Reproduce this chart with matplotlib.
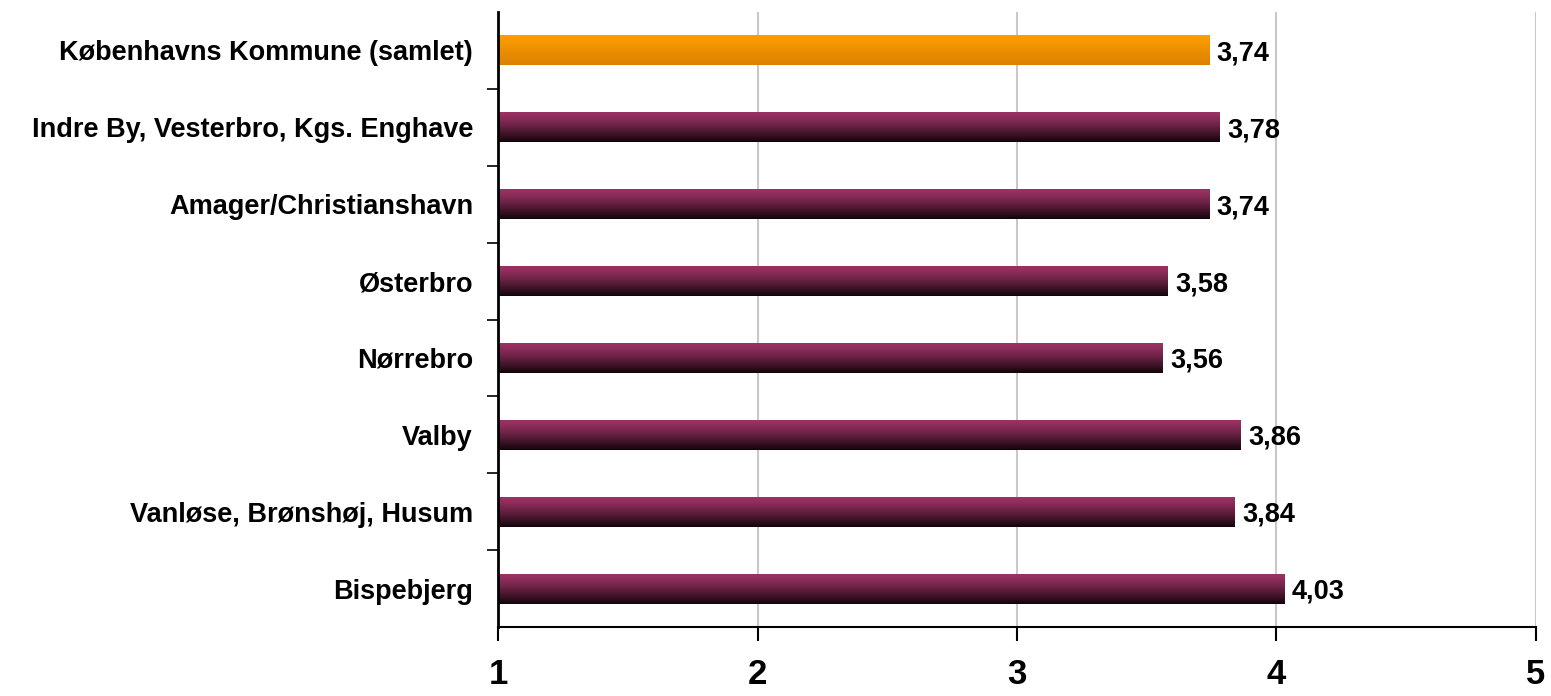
import matplotlib.pyplot as plt
import numpy as np

names = ["Københavns Kommune (samlet)", "Indre By, Vesterbro, Kgs. Enghave",
         "Amager/Christianshavn", "Østerbro", "Nørrebro", "Valby",
         "Vanløse, Brønshøj, Husum", "Bispebjerg"]
scores = [3.74, 3.78, 3.74, 3.58, 3.56, 3.86, 3.84, 4.03]
x_ticks = [1, 2, 3, 4, 5]

plt.rcParams['font.family'] = ['Liberation Sans', 'DejaVu Sans']

fig = plt.figure(figsize=(15.51, 6.96), dpi=100)
ax = fig.add_axes([498 / 1551, 1 - 627 / 696, (1536 - 498) / 1551, 615 / 696])

n = len(names)
ypos = np.arange(n)[::-1]
h = 0.39

# vertical gradients: orange for the total, purple -> black for districts
orange = np.array([[255, 158, 0], [220, 128, 0]]) / 255
purple = np.array([[155, 50, 100], [18, 4, 10]]) / 255

for i, (y, v) in enumerate(zip(ypos, scores)):
    c0, c1 = (orange if i == 0 else purple)
    t = np.linspace(0, 1, 64)
    if i > 0:
        t = t ** 1.3
    grad = (c0[None, :] * (1 - t[:, None]) + c1[None, :] * t[:, None])[:, None, :]
    ax.imshow(grad, extent=[1, v, y - h / 2, y + h / 2], origin='upper',
              aspect='auto', interpolation='bilinear', zorder=2)
    ax.text(v + 0.03, y, f"{v:.2f}".replace('.', ','), va='center_baseline', ha='left',
            fontsize=19.5, fontweight='bold', zorder=3)

ax.set_xlim(1, 5)
ax.set_ylim(-0.5, n - 0.5)
ax.set_xticks(x_ticks)
ax.set_xticklabels([str(t) for t in x_ticks], fontsize=25, fontweight='bold')
ax.set_yticks(ypos)
ax.set_yticklabels(names, fontsize=19.5, fontweight='bold')
ax.set_yticks(np.arange(n - 1) + 0.5, minor=True)
ax.tick_params(axis='y', which='major', length=0, pad=18)
ax.tick_params(axis='y', which='minor', length=8, width=1.2, direction='out')
ax.tick_params(axis='x', length=10, width=1.5, direction='out', pad=12)
ax.xaxis.grid(True, color='#c8c8c8', linewidth=1.5, zorder=0)
ax.set_axisbelow(True)
for s in ['top', 'right']:
    ax.spines[s].set_visible(False)
ax.spines['left'].set_linewidth(2)
ax.spines['bottom'].set_linewidth(1.5)

fig.savefig("out.png", dpi=100)
